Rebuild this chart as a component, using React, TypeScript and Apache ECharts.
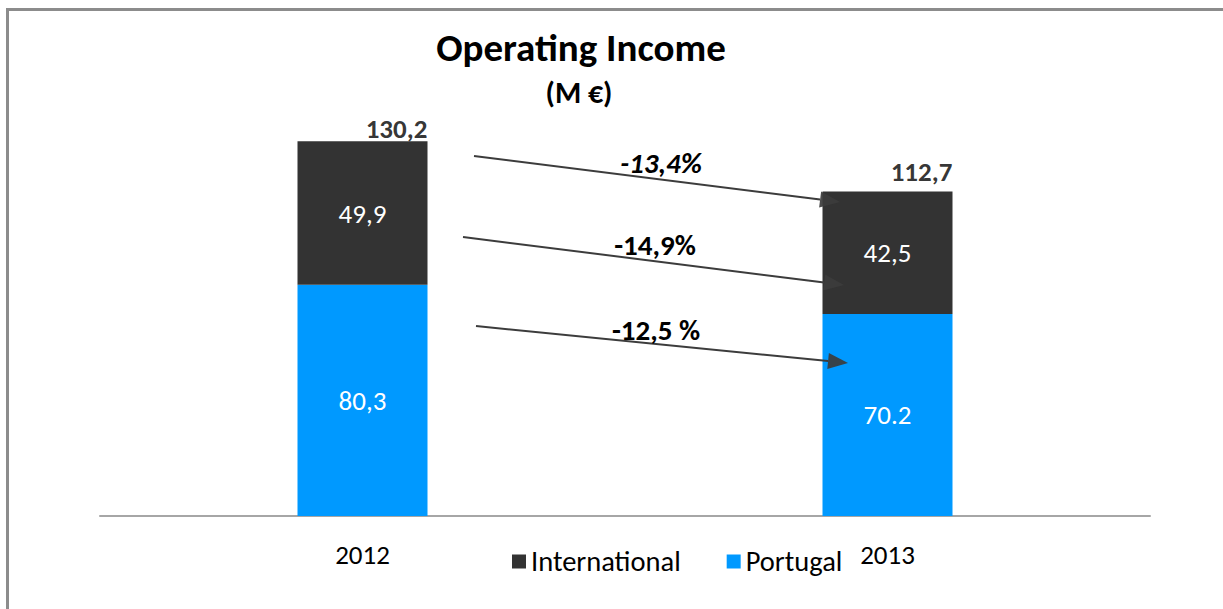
import React, { useEffect, useRef } from "react";
import * as echarts from "echarts";

const categories = ["2012", "2013"];
const portugal = [80.3, 70.2];
const international = [49.9, 42.5];
const totals = [130.2, 112.7];
const portugalLabels = ["80,3", "70.2"];
const internationalLabels = ["49,9", "42,5"];
const totalLabels = ["130,2", "112,7"];
const changeLabels = ["-13,4%", "-14,9%", "-12,5 %"];

const FONT = "Carlito, Calibri, 'Open Sans', sans-serif";
const DARK = "#333333";
const BLUE = "#0099FF";
const ARROW = "#3c3c3c";

function arrow(x1: number, y1: number, x2: number, y2: number) {
  const ang = Math.atan2(y2 - y1, x2 - x1);
  const len = 20;
  const half = 8;
  const bx = x2 - len * Math.cos(ang);
  const by = y2 - len * Math.sin(ang);
  const px = -Math.sin(ang) * half;
  const py = Math.cos(ang) * half;
  return [
    {
      type: "line",
      shape: { x1, y1, x2: bx, y2: by },
      style: { stroke: ARROW, lineWidth: 2 },
      z: 10,
    },
    {
      type: "polygon",
      shape: { points: [[x2, y2], [bx + px, by + py], [bx - px, by - py]] },
      style: { fill: ARROW, opacity: 0.92 },
      z: 10,
    },
  ];
}

function changeText(x: number, y: number, text: string, italic: boolean) {
  return {
    type: "text",
    x,
    y,
    style: {
      text,
      fontFamily: FONT,
      fontSize: 29,
      fontWeight: "bold",
      fontStyle: italic ? "italic" : "normal",
      fill: "#000",
      align: "center",
      verticalAlign: "middle",
    },
    z: 11,
  };
}

export default function App() {
  const ref = useRef<HTMLDivElement>(null);
  useEffect(() => {
    document.body.style.margin = "0";
    document.body.style.overflow = "hidden";
    document.documentElement.style.overflow = "hidden";
    const chart = echarts.init(ref.current!, null, { renderer: "svg" });
    const option: any = {
      animation: false,
      backgroundColor: "#ffffff",
      title: [
        {
          text: "Operating Income",
          left: 576,
          top: 23,
          textAlign: "center",
          textStyle: { fontFamily: FONT, fontSize: 39, fontWeight: "bold", color: "#000" },
        },
        {
          text: "(M €)",
          left: 574,
          top: 72,
          textAlign: "center",
          textStyle: { fontFamily: FONT, fontSize: 30, fontWeight: "bold", color: "#000" },
        },
      ],
      legend: {
        data: ["International", "Portugal"],
        left: 507,
        top: 542,
        icon: "rect",
        itemWidth: 14,
        itemHeight: 14,
        itemGap: 46,
        textStyle: { fontFamily: FONT, fontSize: 28.5, color: "#000" },
      },
      grid: { left: 100, right: 73, top: 113, bottom: 93 },
      xAxis: {
        type: "category",
        data: categories,
        axisLine: { lineStyle: { color: "#a6a6a6", width: 2 } },
        axisTick: { show: false },
        axisLabel: { fontFamily: FONT, fontSize: 27, color: "#000", margin: 25 },
      },
      yAxis: {
        type: "value",
        min: 0,
        max: 140,
        show: false,
        splitLine: { show: false },
      },
      series: [
        {
          name: "Portugal",
          type: "bar",
          stack: "t",
          data: portugal,
          barWidth: 130,
          itemStyle: { color: BLUE },
          label: {
            show: true,
            position: "inside",
            color: "#fff",
            fontFamily: FONT,
            fontSize: 27,
            formatter: (p: any) => portugalLabels[p.dataIndex],
          },
        },
        {
          name: "International",
          type: "bar",
          stack: "t",
          data: international,
          barWidth: 130,
          itemStyle: { color: DARK },
          label: {
            show: true,
            position: "inside",
            color: "#fff",
            fontFamily: FONT,
            fontSize: 27,
            formatter: (p: any) => internationalLabels[p.dataIndex],
          },
        },
        {
          name: "Total",
          type: "scatter",
          data: totals.map((v, i) => ({
            value: v,
            label: { distance: i === 0 ? -1 : 7 },
          })),
          symbolSize: 0,
          silent: true,
          label: {
            show: true,
            position: "top",
            offset: [34, 0],
            color: "#000",
            fontFamily: FONT,
            fontSize: 27,
            fontWeight: "bold",
            formatter: (p: any) => totalLabels[p.dataIndex],
          },
        },
      ],
      graphic: [
        { type: "line", shape: { x1: 6, y1: 9.5, x2: 1223, y2: 9.5 }, style: { stroke: "#8c8c8c", lineWidth: 3 } },
        { type: "line", shape: { x1: 7.5, y1: 8, x2: 7.5, y2: 609 }, style: { stroke: "#8c8c8c", lineWidth: 3 } },
        ...arrow(474, 156, 840, 202),
        ...arrow(463, 237, 844, 285),
        ...arrow(476, 326, 848, 363),
        changeText(661, 163, changeLabels[0], true),
        changeText(655, 245, changeLabels[1], false),
        changeText(656, 330, changeLabels[2], false),
      ],
    };
    chart.setOption(option);
    return () => chart.dispose();
  }, []);
  return <div ref={ref} style={{ width: 1223, height: 609, overflow: "hidden" }} />;
}
